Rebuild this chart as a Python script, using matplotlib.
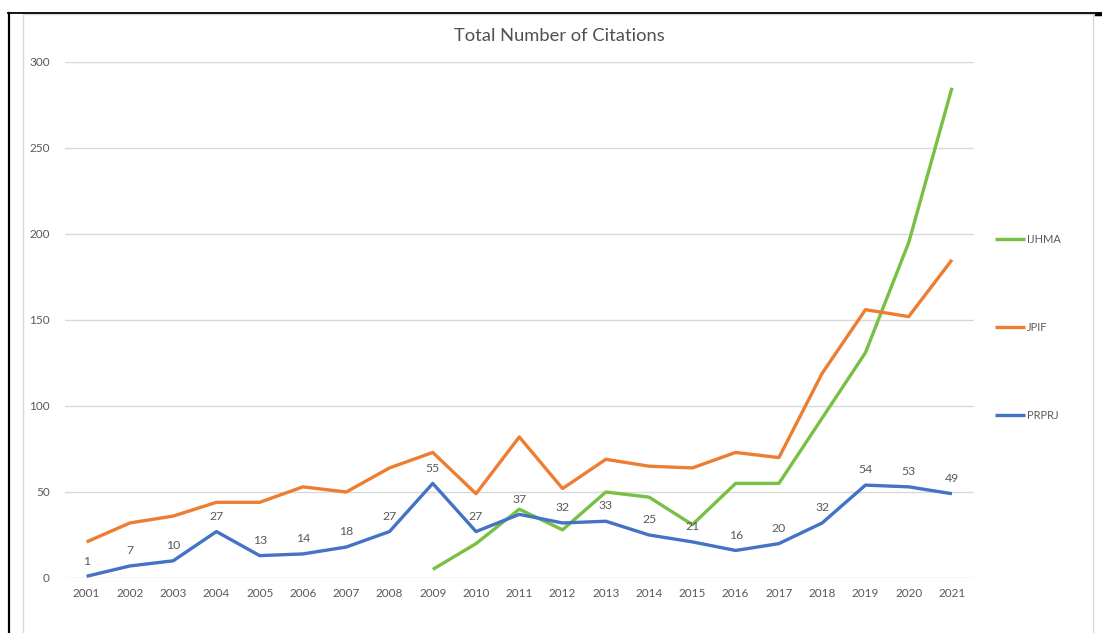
import matplotlib
matplotlib.use("Agg")
import matplotlib.pyplot as plt
from matplotlib.lines import Line2D
from matplotlib.patches import Rectangle

plt.rcParams['font.family'] = ['Lato', 'DejaVu Sans']

years = [str(y) for y in range(2001, 2022)]
ijhma = [None]*8 + [5, 20, 40, 28, 50, 47, 31, 55, 55, 93, 131, 195, 285]
jpif = [21, 32, 36, 44, 44, 53, 50, 64, 73, 49, 82, 52, 69, 65, 64, 73, 70, 119, 156, 152, 185]
prprj = [1, 7, 10, 27, 13, 14, 18, 27, 55, 27, 37, 32, 33, 25, 21, 16, 20, 32, 54, 53, 49]
yticks = [0, 50, 100, 150, 200, 250, 300]

W, H = 1102, 633
fig = plt.figure(figsize=(W/100, H/100), dpi=100)
fig.patch.set_facecolor('white')

# chart border and page lines
fig.add_artist(Rectangle((23/W, -0.05), (1093-23)/W, 1.05-14/H, transform=fig.transFigure,
                         fill=False, edgecolor='#d9d9d9', linewidth=1.0))
fig.add_artist(Line2D([8/W, 1], [1-13/H, 1-13/H], transform=fig.transFigure, color='black', linewidth=1.3))
fig.add_artist(Line2D([1096/W, 1], [1-13.5/H, 1-13.5/H], transform=fig.transFigure, color='black', linewidth=2.5))
fig.add_artist(Line2D([9/W, 9/W], [0, 1-13/H], transform=fig.transFigure, color='black', linewidth=1.6))

ax = fig.add_axes([65/W, 1-578/H, (973.6-65)/W, (578-62)/H])
x = list(range(len(years)))

c_green = '#77c043'
c_orange = '#ed7d31'
c_blue = '#4472c4'

xi = [i for i, v in zip(x, ijhma) if v is not None]
vi = [v for v in ijhma if v is not None]
ax.plot(xi, vi, color=c_green, linewidth=2.4, label='IJHMA', solid_capstyle='butt', zorder=3)
ax.plot(x, jpif, color=c_orange, linewidth=2.4, label='JPIF', solid_capstyle='butt', zorder=3)
ax.plot(x, prprj, color=c_blue, linewidth=2.4, label='PRPRJ', solid_capstyle='butt', zorder=4)

for i, v in zip(x, prprj):
    ax.annotate(str(v), (i, v), xytext=(0, 11), textcoords='offset points',
                ha='center', va='center', fontsize=8.8, color='#595959', zorder=5)

ax.set_xlim(-0.5, len(years) - 0.5)
ax.set_ylim(0, 300)
ax.set_xticks(x)
ax.set_xticklabels(years)
ax.set_yticks(yticks)
ax.tick_params(axis='both', length=0, labelsize=8.5, labelcolor='#595959')
ax.tick_params(axis='x', pad=7)
ax.tick_params(axis='y', pad=11)
for s in ax.spines.values():
    s.set_visible(False)
ax.grid(axis='y', color='#d9d9d9', linewidth=1.0)
ax.set_axisbelow(True)

fig.text(559/W, 1-36/H, 'Total Number of Citations', ha='center', va='center',
         fontsize=13.2, color='#505050')

leg = fig.legend(loc='center left', bbox_to_anchor=(995/W, 1-327.5/H), frameon=False,
                 fontsize=8, labelcolor='#595959', handlelength=2.7, handletextpad=0.2,
                 labelspacing=6.95, borderpad=0, borderaxespad=0)

fig.savefig('out.png', dpi=100)
